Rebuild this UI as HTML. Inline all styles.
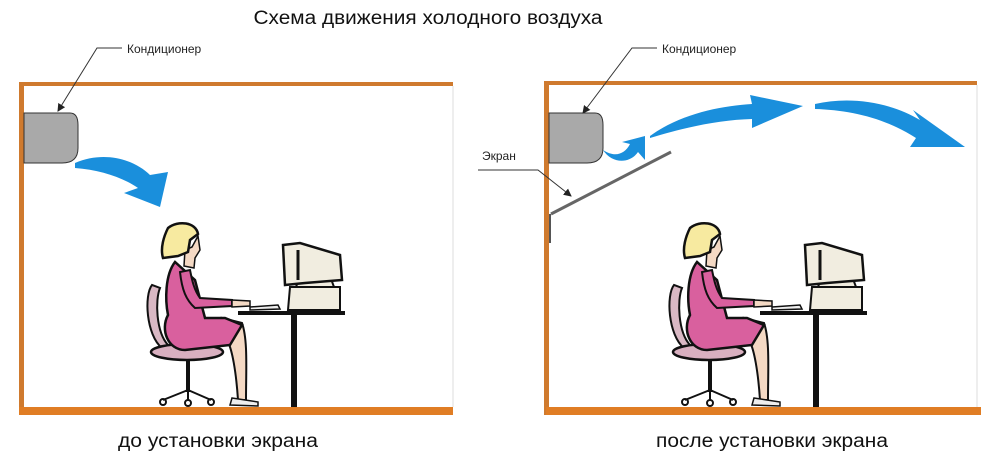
<!DOCTYPE html>
<html><head><meta charset="utf-8"><style>
html,body{margin:0;padding:0;background:#fff;width:1000px;height:461px;overflow:hidden}
svg{display:block}
text{font-family:"Liberation Sans",sans-serif}
</style></head><body>
<svg width="1000" height="461" viewBox="0 0 1000 461" xmlns="http://www.w3.org/2000/svg">
<defs>
<marker id="ah" markerWidth="8" markerHeight="8" refX="7" refY="4" orient="auto" markerUnits="userSpaceOnUse"><path d="M0,0 L8,4 L0,8 z" fill="#222"/></marker>
<g id="person">
  <path d="M152,285 C144,295 146,335 162,348 L168,345 C156,332 155,300 160,288 Z" fill="#d9b8c4" stroke="#111" stroke-width="2"/>
  <ellipse cx="187" cy="352" rx="36" ry="8" fill="#d9b0c0" stroke="#111" stroke-width="2.5"/>
  <line x1="188" y1="360" x2="188" y2="392" stroke="#111" stroke-width="4"/>
  <path d="M188,390 L163,400 M188,390 L188,401 M188,390 L211,400" stroke="#111" stroke-width="2"/>
  <circle cx="163" cy="402" r="3" fill="none" stroke="#111" stroke-width="2"/>
  <circle cx="188" cy="403" r="3" fill="none" stroke="#111" stroke-width="2"/>
  <circle cx="211" cy="402" r="3" fill="none" stroke="#111" stroke-width="2"/>
  <path d="M222,318 L242,323 C248,340 246,370 246,400 L238,400 C236,370 232,350 228,342 Z" fill="#f4d9c4" stroke="#111" stroke-width="2"/>
  <path d="M232,398 L258,402 L258,406 L230,405 Z" fill="#eee" stroke="#111" stroke-width="1.5"/>
  <path d="M175,262 C165,275 165,300 168,315 C160,330 168,350 185,350 L230,345 L242,325 L225,318 L205,318 L195,280 Z" fill="#d9609e" stroke="#111" stroke-width="2.5"/>
  <path d="M180,272 C182,290 186,300 195,308 L232,306 L232,300 L200,298 C194,290 192,280 190,270 Z" fill="#d9609e" stroke="#111" stroke-width="2"/>
  <path d="M232,300 L250,301 L250,306 L232,307 Z" fill="#f4d9c4" stroke="#111" stroke-width="1.5"/>
  <path d="M185,250 L192,247 L198,236 L200,250 L195,258 L194,268 L184,266 Z" fill="#f4d9c4" stroke="#111" stroke-width="1.5"/>
  <path d="M168,228 C178,220 196,222 198,234 L190,240 L188,252 L178,256 L163,258 C160,248 164,236 168,228 Z" fill="#f7eaa0" stroke="#111" stroke-width="2.5"/>
  <path d="M238,311 L345,311 L345,315 L238,315 Z" fill="#111"/>
  <path d="M250,307 L278,305 L280,309 L250,310 Z" fill="#eee" stroke="#111" stroke-width="1.5"/>
  <rect x="291" y="315" width="6" height="92" fill="#111"/>
  <path d="M290,287 L340,287 L340,310 L288,310 Z" fill="#f1ede0" stroke="#111" stroke-width="2"/>
  <path d="M300,276 L330,276 L334,287 L296,287 Z" fill="#f1ede0" stroke="#111" stroke-width="2"/>
  <path d="M283,245 L300,243 L340,255 L342,280 L305,283 L285,285 Z" fill="#f1ede0" stroke="#111" stroke-width="2.5"/>
  <line x1="298" y1="250" x2="298" y2="280" stroke="#111" stroke-width="3"/>
</g>
</defs>

<text x="428" y="24" font-size="19" text-anchor="middle" fill="#111" textLength="349" lengthAdjust="spacingAndGlyphs">Схема движения холодного воздуха</text>

<rect x="19" y="82" width="434" height="4" fill="#cf7a2e"/>
<rect x="19" y="82" width="5" height="333" fill="#cf7a2e"/>
<rect x="19" y="407" width="434" height="8" fill="#e07d24"/>
<line x1="453" y1="86" x2="453" y2="407" stroke="#ddd" stroke-width="1"/>
<path d="M24,113 L70,113 Q78,113 78,125 L78,148 Q78,163 62,163 L24,163 Z" fill="#a9a9a9" stroke="#333" stroke-width="1"/>
<text x="127" y="53" font-size="12" fill="#222">Кондиционер</text>
<path d="M122,48 L97,48 L58,111" fill="none" stroke="#333" stroke-width="1" marker-end="url(#ah)"/>
<path d="M75,163 C105,150 135,160 150,175 L168,172 L160,207 L124,193 L138,188 C122,177 100,170 75,168 Z" fill="#1a8fdc"/>
<use href="#person"/>
<text x="218" y="447" font-size="19" text-anchor="middle" fill="#111" textLength="200" lengthAdjust="spacingAndGlyphs">до установки экрана</text>

<rect x="544" y="81" width="433" height="4" fill="#cf7a2e"/>
<rect x="544" y="81" width="5" height="334" fill="#cf7a2e"/>
<rect x="546" y="407" width="435" height="8" fill="#e07d24"/>
<line x1="977" y1="85" x2="977" y2="407" stroke="#ddd" stroke-width="1"/>
<path d="M549,113 L595,113 Q603,113 603,125 L603,148 Q603,163 587,163 L549,163 Z" fill="#a9a9a9" stroke="#333" stroke-width="1"/>
<text x="662" y="53" font-size="12" fill="#222">Кондиционер</text>
<path d="M657,48 L632,48 L583,113" fill="none" stroke="#333" stroke-width="1" marker-end="url(#ah)"/>
<line x1="551" y1="214" x2="671" y2="152" stroke="#666" stroke-width="3"/>
<line x1="550" y1="214" x2="550" y2="243" stroke="#555" stroke-width="2"/>
<text x="482" y="160" font-size="12" fill="#222">Экран</text>
<path d="M478,170 L538,170 L571,196" fill="none" stroke="#333" stroke-width="1" marker-end="url(#ah)"/>
<path d="M603,150 C615,158 625,154 630,144 L622,142 L645,136 L645,160 L638,152 C630,164 612,164 603,150 Z" fill="#1a8fdc"/>
<path d="M650,136 C680,114 720,106 752,104 L750,95 L803,106 L752,128 L752,119 C720,120 690,126 650,138 Z" fill="#1a8fdc"/>
<path d="M815,104 C850,96 890,102 920,120 L913,110 L965,147 L910,147 L916,138 C885,118 850,110 815,109 Z" fill="#1a8fdc"/>
<use href="#person" transform="translate(522,0)"/>
<text x="772" y="447" font-size="19" text-anchor="middle" fill="#111" textLength="232" lengthAdjust="spacingAndGlyphs">после установки экрана</text>
</svg>
</body></html>
